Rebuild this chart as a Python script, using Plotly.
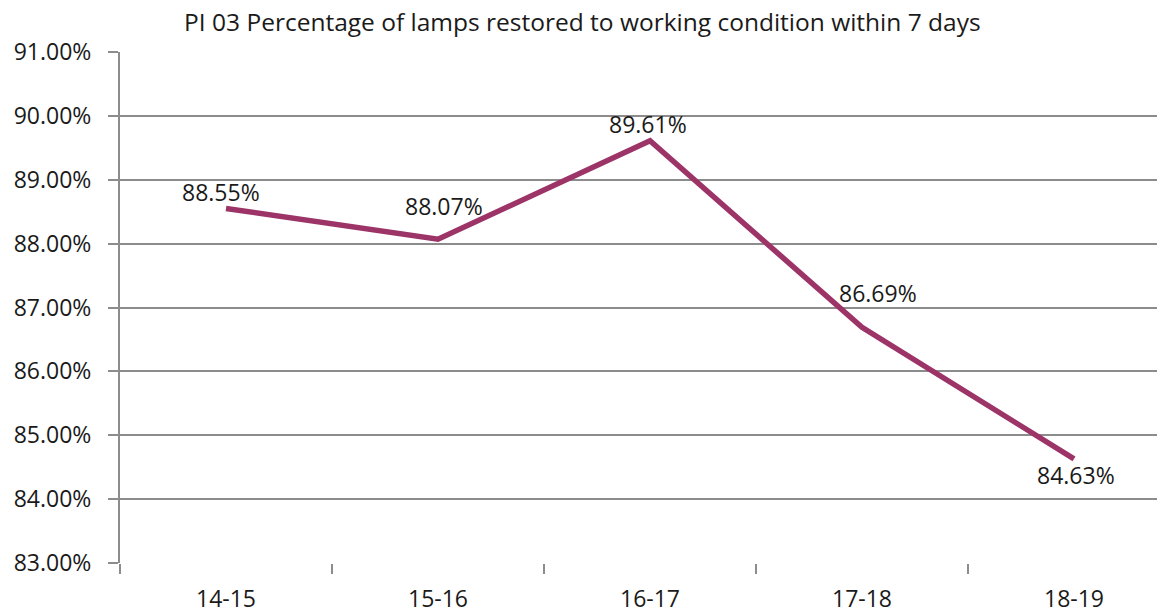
import plotly.graph_objects as go

# Data
years = ['14-15', '15-16', '16-17', '17-18', '18-19']
pct_restored = [88.55, 88.07, 89.61, 86.69, 84.63]
y_ticks = [83, 84, 85, 86, 87, 88, 89, 90, 91]

# label offsets (px) from each point, as placed in the original
label_shift = [(-5, 16), (6, 33), (-2, 17), (16, 34), (2, -16)]

LINE = '#9C3468'
GRID = '#8C8C8C'
TXT = '#1a1a1a'
FONT = 'Open Sans'

fig = go.Figure()

fig.add_trace(go.Scatter(
    x=years,
    y=pct_restored,
    mode='lines',
    line=dict(color=LINE, width=5.5),
    hoverinfo='skip',
))

for yr, v, (dx, dy) in zip(years, pct_restored, label_shift):
    fig.add_annotation(
        x=yr, y=v,
        text=f'{v:.2f}%',
        showarrow=False,
        xanchor='center', yanchor='middle',
        xshift=dx, yshift=dy,
        font=dict(family=FONT, size=23, color=TXT),
    )

fig.update_layout(
    width=1165,
    height=615,
    margin=dict(l=112, r=0, t=44, b=60),
    plot_bgcolor='white',
    paper_bgcolor='white',
    showlegend=False,
    title=dict(
        text='PI 03 Percentage of lamps restored to working condition within 7 days',
        x=0.493, xref='container', xanchor='center',
        y=0.977, yref='container', yanchor='middle',
        font=dict(family=FONT, size=24.5, color=TXT),
    ),
    xaxis=dict(
        type='category',
        range=[-0.5, 4.467],
        showgrid=False,
        zeroline=False,
        showline=False,
        ticks='outside',
        tickson='boundaries',
        ticklen=10,
        tickwidth=2,
        tickcolor=GRID,
        ticklabelstandoff=20,
        tickfont=dict(family=FONT, size=23, color=TXT),
    ),
    yaxis=dict(
        range=[83, 91],
        tickvals=y_ticks,
        ticktext=[f'{v:.2f}%' for v in y_ticks],
        showgrid=True,
        gridcolor=GRID,
        gridwidth=2,
        zeroline=False,
        showline=True,
        linecolor=GRID,
        linewidth=2,
        ticks='outside',
        ticklen=10,
        tickwidth=2,
        tickcolor=GRID,
        ticklabelstandoff=12,
        tickfont=dict(family=FONT, size=23, color=TXT),
    ),
)

fig.write_html('out.html')
